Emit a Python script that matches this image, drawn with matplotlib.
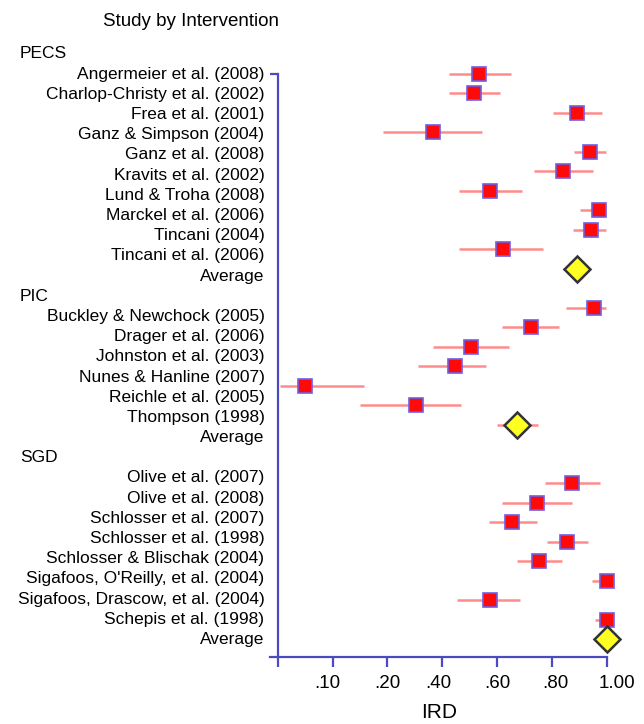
import numpy as np
import matplotlib
matplotlib.use("Agg")
import matplotlib.pyplot as plt
from matplotlib.transforms import ScaledTranslation

plt.rcParams['font.family'] = ['Liberation Sans', 'DejaVu Sans']

# ---------------- data ----------------
group_names = ["PECS", "PIC", "SGD"]

pecs_studies = ["Angermeier et al. (2008)", "Charlop-Christy et al. (2002)", "Frea et al. (2001)",
                "Ganz & Simpson (2004)", "Ganz et al. (2008)", "Kravits et al. (2002)",
                "Lund & Troha (2008)", "Marckel et al. (2006)", "Tincani (2004)", "Tincani et al. (2006)"]
pecs_ird = [0.535, 0.517, 0.892, 0.365, 0.939, 0.841, 0.575, 0.971, 0.944, 0.622]
pecs_lo = [0.424, 0.424, 0.803, 0.191, 0.881, 0.735, 0.461, 0.903, 0.876, 0.461]
pecs_hi = [0.651, 0.611, 0.982, 0.544, 0.997, 0.949, 0.692, 0.997, 0.997, 0.769]
pecs_avg = [0.892, 0.842, 0.939]  # estimate, low, high

pic_studies = ["Buckley & Newchock (2005)", "Drager et al. (2006)", "Johnston et al. (2003)",
               "Nunes & Hanline (2007)", "Reichle et al. (2005)", "Thompson (1998)"]
pic_ird = [0.954, 0.724, 0.506, 0.448, 0.050, 0.303]
pic_lo = [0.851, 0.619, 0.367, 0.311, 0.004, 0.150]
pic_hi = [0.997, 0.827, 0.645, 0.558, 0.158, 0.467]
pic_avg = [0.673, 0.599, 0.750]

sgd_studies = ["Olive et al. (2007)", "Olive et al. (2008)", "Schlosser et al. (2007)",
               "Schlosser et al. (1998)", "Schlosser & Blischak (2004)",
               "Sigafoos, O'Reilly, et al. (2004)", "Sigafoos, Drascow, et al. (2004)",
               "Schepis et al. (1998)"]
sgd_ird = [0.874, 0.745, 0.656, 0.854, 0.753, 1.000, 0.574, 1.000]
sgd_lo = [0.776, 0.619, 0.571, 0.781, 0.674, 0.945, 0.453, 0.957]
sgd_hi = [0.975, 0.872, 0.745, 0.933, 0.836, 1.000, 0.684, 1.000]
sgd_avg = [1.000, 0.990, 1.000]

tick_values = [0.0, 0.10, 0.20, 0.40, 0.60, 0.80, 1.00]
tick_labels = ["", ".10", ".20", ".40", ".60", ".80", "1.00"]

# ---------------- layout / style ----------------
AXIS_C = "#4b4bbf"
CI_C = "#ff8c8c"
SQ_FACE = "#ff0a0a"
SQ_EDGE = "#6f5fe6"
DIA_FACE = "#ffff22"
DIA_EDGE = "#333333"

tick_pos = np.arange(len(tick_values), dtype=float)  # equally spaced positions
tv = np.array(tick_values)


def fwd(x):
    x = np.asarray(x, dtype=float)
    return np.where(x < 0, x * 10.0,
                    np.where(x > 1, 6.0 + (x - 1.0) * 5.0, np.interp(x, tv, tick_pos)))


def inv(u):
    u = np.asarray(u, dtype=float)
    return np.where(u < 0, u / 10.0,
                    np.where(u > 6, 1.0 + (u - 6.0) / 5.0, np.interp(u, tick_pos, tv)))


W, H = 644, 724
fig = plt.figure(figsize=(W / 100, H / 100), dpi=100)

px_u0 = 277.8
px_per_u = 54.82
u_left, u_right = -0.14, 6.25
m0_px, m_step = 73.7, 19.5
m_top = -1.5
bottom_px = 656.5
m_bottom = (bottom_px - m0_px) / m_step

ax_left_px = px_u0 + u_left * px_per_u
ax_right_px = px_u0 + u_right * px_per_u
top_px = m0_px + m_top * m_step
ax = fig.add_axes([ax_left_px / W, 1 - bottom_px / H,
                   (ax_right_px - ax_left_px) / W, (bottom_px - top_px) / H])
ax.set_xscale('function', functions=(fwd, inv))
ax.set_xlim(float(inv(u_left)), float(inv(u_right)))
ax.set_ylim(m_bottom, m_top)

groups = [
    (pecs_studies, pecs_ird, pecs_lo, pecs_hi, pecs_avg),
    (pic_studies, pic_ird, pic_lo, pic_hi, pic_avg),
    (sgd_studies, sgd_ird, sgd_lo, sgd_hi, sgd_avg),
]
marker_starts = [0, 12, 21]
label_y0, label_step = 54.0, 20.19
FS = 12.5

label_row = 0
for gname, (studies, ird, lo, hi, avg), mstart in zip(group_names, groups, marker_starts):
    fig.text(20 / W, 1 - (label_y0 + label_step * label_row) / H, gname,
             ha='left', va='center', fontsize=FS)
    label_row += 1
    ys = mstart + np.arange(len(studies))
    ax.hlines(ys, lo, hi, colors=CI_C, linewidth=1.8, zorder=2, clip_on=False)
    ax.plot(ird, ys, linestyle='none', marker='s', markersize=10.5,
            markerfacecolor=SQ_FACE, markeredgecolor=SQ_EDGE, markeredgewidth=1.2,
            zorder=3, clip_on=False)
    for s in studies:
        fig.text(264.5 / W, 1 - (label_y0 + label_step * label_row) / H, s,
                 ha='right', va='center', fontsize=FS)
        label_row += 1
    ya = mstart + len(studies)
    ax.hlines([ya], [avg[1]], [avg[2]], colors=CI_C, linewidth=1.8, zorder=2, clip_on=False)
    ax.plot([avg[0]], [ya], linestyle='none', marker='D', markersize=13,
            markerfacecolor=DIA_FACE, markeredgecolor=DIA_EDGE, markeredgewidth=1.8,
            zorder=4, clip_on=False)
    fig.text(264.5 / W, 1 - (label_y0 + label_step * label_row) / H, "Average",
             ha='right', va='center', fontsize=FS)
    label_row += 1

for side in ['top', 'right']:
    ax.spines[side].set_visible(False)
ax.spines['left'].set_position(('data', 0.0))
ax.spines['left'].set_bounds(0, m_bottom)
ax.spines['bottom'].set_bounds(float(inv(u_left)), 1.0)
for side in ['left', 'bottom']:
    ax.spines[side].set_color(AXIS_C)
    ax.spines[side].set_linewidth(1.6)

ax.set_yticks([0])
ax.set_yticklabels([])
ax.tick_params(axis='y', direction='out', length=5.5, width=1.6, color=AXIS_C)

ax.set_xticks(tick_values)
ax.set_xticklabels(tick_labels, fontsize=13.5)
ax.xaxis.set_minor_locator(matplotlib.ticker.NullLocator())
ax.tick_params(axis='x', direction='out', length=7.2, width=1.6, color=AXIS_C, pad=6)
label_dx = [0, -5, 0, -4, 0, 3, 10]
for lbl, dx in zip(ax.get_xticklabels(), label_dx):
    lbl.set_transform(lbl.get_transform() + ScaledTranslation(dx / 100, 0, fig.dpi_scale_trans))

fig.text(103 / W, 1 - 22 / H, "Study by Intervention", ha='left', va='center', fontsize=13.5)
fig.text(439 / W, 1 - 712 / H, "IRD", ha='center', va='center', fontsize=15)

fig.savefig("out.png", dpi=100)
